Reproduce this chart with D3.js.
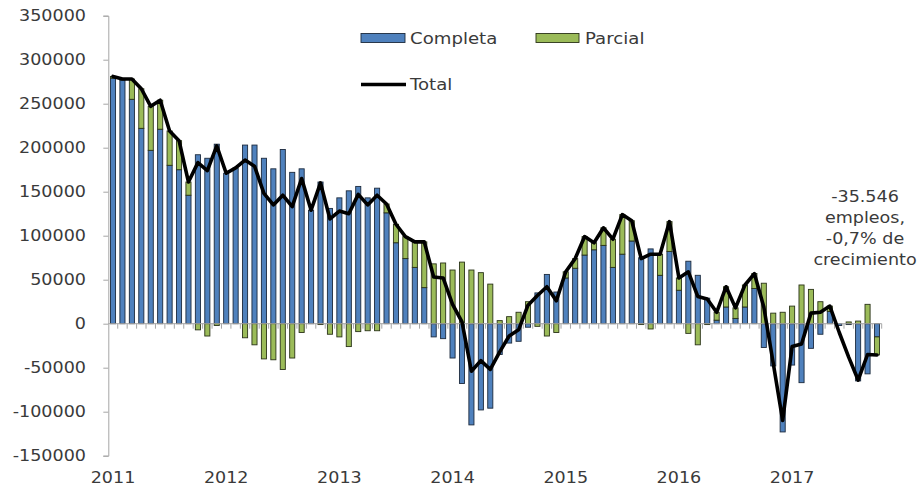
<!DOCTYPE html>
<html>
<head>
<meta charset="utf-8">
<script src="https://cdn.jsdelivr.net/npm/d3@7/dist/d3.min.js"></script>
<style>
  html, body { margin: 0; padding: 0; background: #fff; }
  svg { display: block; }
  text { font-family: "DejaVu Sans", Verdana, sans-serif; fill: #3a3a3a; }
</style>
</head>
<body>
<svg id="chart" width="924" height="488"></svg>
<script>
// ---- data (monthly, Jan 2011 .. Oct 2017) ----
const startYear = 2011;
const monthCount = 82;
const categories = d3.range(monthCount).map(i => `${startYear + Math.floor(i / 12)}-${String(i % 12 + 1).padStart(2, "0")}`);

const completa = [
  279000, 277000, 255000, 222000, 197000, 221000, 180000, 175000, 146000, 192000, 188000, 204000,
  171000, 177000, 203000, 203000, 188000, 176000, 198000, 172000, 176000, 129000, 161000, 131000,
  143000, 151000, 156000, 143000, 154000, 126000, 92000, 74000, 64000, 41000, -15000, -17000,
  -39000, -68000, -115000, -98000, -96000, -35000, -22000, -20000, -4000, 35000, 56000, 36000,
  52000, 63000, 78000, 84000, 89000, 64000, 79000, 94000, 75000, 85000, 55000, 82000,
  38000, 71000, 55000, 29000, 4000, 19000, 6000, 19000, 40000, -27000, -48000, -123000,
  -47000, -67000, -28000, -12000, 14000, -2000, -1000, -65000, -57000, -15000
];
const parcial = [
  2000, 1000, 23000, 45000, 50000, 33000, 39000, 33000, 15000, -7000, -14000, -2000,
  0, 0, -16000, -24000, -40000, -41000, -52000, -39000, -10000, 0, -1000, -12000,
  -15000, -26000, -9000, -8000, -8000, 10000, 21000, 25000, 29000, 52000, 68000, 69000,
  61000, 70000, 61000, 58000, 45000, 3500, 8000, 13000, 25000, -3000, -14000, -10000,
  7000, 11000, 21000, 8000, 20000, 32000, 45000, 23000, -1000, -6000, 24000, 34000,
  14000, -11000, -24000, -1000, 9000, 23000, 12000, 25000, 17000, 46000, 12000, 13000,
  20000, 44000, 39000, 25000, 6000, 0, 2000, 3000, 22000, -20500
];
const total = [
  281000, 278000, 278000, 267000, 247000, 254000, 219000, 208000, 161000, 183000, 174000, 202000,
  171000, 177000, 186000, 179000, 148000, 135000, 146000, 133000, 165000, 129000, 160000, 119000,
  128000, 125000, 147000, 135000, 146000, 136000, 113000, 99000, 93000, 93000, 53000, 52000,
  22000, 2000, -54000, -42000, -52000, -32000, -14000, -7000, 21000, 32000, 42000, 26000,
  59000, 74000, 99000, 92000, 109000, 96000, 124000, 117000, 74000, 79000, 79000, 116000,
  52000, 59000, 31000, 28000, 13000, 42000, 18000, 44000, 57000, 19000, -45000, -110000,
  -26000, -23000, 12000, 13000, 20000, -10000, -38000, -64000, -35000, -35546
];
const seriesNames = ["Completa", "Parcial"];
const totalName = "Total";
const yTicks = [-150000, -100000, -50000, 0, 50000, 100000, 150000, 200000, 250000, 300000, 350000];
const yearLabels = ["2011", "2012", "2013", "2014", "2015", "2016", "2017"];
const annotation = ["-35.546", "empleos,", "-0,7% de", "crecimiento"];

// ---- layout ----
const colors = { Completa: "#4f81bd", Parcial: "#9bbb59" };
const strokes = { Completa: "#1c2a3d", Parcial: "#2a3318" };
const axisColor = "#a6a6a6";
const SX = 1.17; // horizontal stretch of text

const svg = d3.select("#chart");
const plot = { left: 108.3, right: 881.7, top: 15.7, bottom: 455.7 };

const x = d3.scaleBand().domain(categories).range([plot.left, plot.right]).paddingInner(0.46).paddingOuter(0.23);
const step = (plot.right - plot.left) / categories.length;
const y = d3.scaleLinear().domain([-150000, 350000]).range([plot.bottom, plot.top]);

const table = categories.map((c, i) => ({ cat: c, Completa: completa[i], Parcial: parcial[i], Total: total[i] }));
const stacked = d3.stack().keys(seriesNames).offset(d3.stackOffsetDiverging)(table);

function stext(g, tx, ty, str, anchor, size) {
  return g.append("text")
    .attr("transform", `translate(${tx},${ty}) scale(${SX},1)`)
    .attr("text-anchor", anchor)
    .style("font-size", size + "px")
    .text(str);
}

// y axis
const yAxis = d3.axisLeft(y).tickValues(yTicks).tickSize(5).tickFormat(d => String(d));
const gy = svg.append("g").attr("transform", `translate(${plot.left},0)`).call(yAxis);
gy.select(".domain").attr("stroke", axisColor);
gy.selectAll(".tick line").attr("stroke", axisColor);
gy.selectAll(".tick text").remove();
yTicks.forEach(v => stext(svg, 86, y(v) + 5.5, String(v), "end", 15));

// bars
svg.append("g").selectAll("g").data(stacked).join("g")
  .attr("fill", d => colors[d.key])
  .attr("stroke", d => strokes[d.key])
  .attr("stroke-width", 0.9)
  .selectAll("rect").data(d => d).join("rect")
  .attr("x", d => x(d.data.cat))
  .attr("width", x.bandwidth())
  .attr("y", d => y(Math.max(d[0], d[1])))
  .attr("height", d => Math.abs(y(d[0]) - y(d[1])));

// x axis line at zero with ticks between categories
const gx = svg.append("g");
gx.append("line").attr("x1", plot.left).attr("x2", plot.right)
  .attr("y1", y(0)).attr("y2", y(0)).attr("stroke", axisColor).attr("stroke-width", 1);
gx.selectAll("line.t").data(categories).join("line").attr("class", "t")
  .attr("x1", d => x(d) - x.paddingOuter() * step + step)
  .attr("x2", d => x(d) - x.paddingOuter() * step + step)
  .attr("y1", y(0)).attr("y2", y(0) + 5).attr("stroke", axisColor);

// year labels
yearLabels.forEach((yr, k) => {
  const cat = categories[k * 12];
  stext(svg, x(cat) + x.bandwidth() / 2, 483, yr, "middle", 15);
});

// total line
const line = d3.line().x(d => x(d.cat) + x.bandwidth() / 2).y(d => y(d.Total));
svg.append("path").datum(table).attr("d", line)
  .attr("fill", "none").attr("stroke", "#000").attr("stroke-width", 3.6)
  .attr("stroke-linejoin", "round").attr("stroke-linecap", "round");

// legend
const lg = svg.append("g");
lg.append("rect").attr("x", 361).attr("y", 33.5).attr("width", 44).attr("height", 9)
  .attr("fill", colors.Completa).attr("stroke", strokes.Completa).attr("stroke-width", 0.9);
stext(lg, 410, 43.5, seriesNames[0], "start", 15.5);
lg.append("rect").attr("x", 536).attr("y", 33.5).attr("width", 43).attr("height", 9)
  .attr("fill", colors.Parcial).attr("stroke", strokes.Parcial).attr("stroke-width", 0.9);
stext(lg, 585, 43.5, seriesNames[1], "start", 15.5);
lg.append("line").attr("x1", 361).attr("x2", 406).attr("y1", 84.5).attr("y2", 84.5)
  .attr("stroke", "#000").attr("stroke-width", 3.6);
stext(lg, 410, 90, totalName, "start", 15.5);

// annotation
annotation.forEach((t, k) => stext(svg, 865, 202 + k * 21, t, "middle", 15));
</script>
</body>
</html>
